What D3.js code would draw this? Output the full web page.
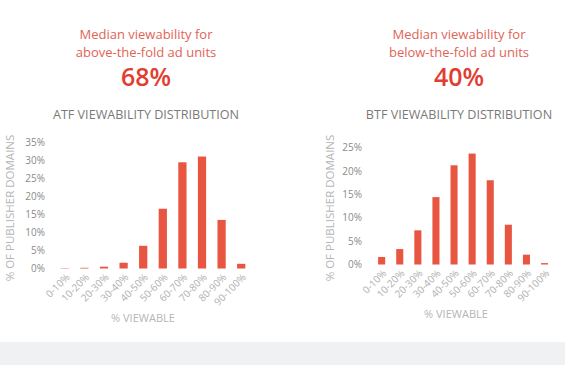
<!DOCTYPE html>
<html><head><meta charset="utf-8">
<script src="https://cdn.jsdelivr.net/npm/d3@7"></script>
<style>
html,body{margin:0;padding:0;background:#fff;}
svg{display:block;font-family:"Open Sans",sans-serif;}
</style></head>
<body>
<svg id="c" width="565" height="365"></svg>
<script>
const categories = ["0-10%","10-20%","20-30%","30-40%","40-50%","50-60%","60-70%","70-80%","80-90%","90-100%"];
const atfValues = [0.1, 0.2, 0.5, 1.6, 6.3, 16.6, 29.5, 31.1, 13.5, 1.3];
const btfValues = [1.6, 3.3, 7.3, 14.4, 21.2, 23.7, 18.0, 8.5, 2.1, 0.3];
const atfTicks = [0, 5, 10, 15, 20, 25, 30, 35];
const btfTicks = [0, 5, 10, 15, 20, 25];
const atfMedian = "68%";
const btfMedian = "40%";

const svg = d3.select("#c");
const barColor = "#e85540";

svg.append("rect").attr("x",0).attr("y",342).attr("width",565).attr("height",23).attr("fill","#f0f1f3");

function panel(cfg){
  const g = svg.append("g");
  g.append("text").attr("x",cfg.cx).attr("y",39).attr("text-anchor","middle")
    .attr("font-size",13).attr("fill","#df6457").text("Median viewability for");
  g.append("text").attr("x",cfg.cx).attr("y",57).attr("text-anchor","middle")
    .attr("font-size",13).attr("fill","#df6457").text(cfg.sub);
  g.append("text").attr("x",cfg.cx).attr("y",86).attr("text-anchor","middle")
    .attr("font-size",25).attr("font-weight",600).attr("fill","#e23d30").text(cfg.median);
  g.append("text").attr("x",cfg.cx).attr("y",119).attr("text-anchor","middle")
    .attr("font-size",12.6).attr("fill","#7a7a7a").text(cfg.title);

  const x = d3.scaleBand().domain(categories).range(cfg.xr)
    .paddingInner(cfg.pi).paddingOuter(cfg.pi/2);
  const y = d3.scaleLinear().domain([0, cfg.ymax]).range(cfg.yr);

  g.selectAll(".bar").data(cfg.values).join("rect")
    .attr("x",(d,i)=>x(categories[i])).attr("width",x.bandwidth())
    .attr("y",d=>y(d)).attr("height",d=>y(0)-y(d)).attr("fill",barColor);

  const ya = d3.axisLeft(y).tickValues(cfg.ticks).tickFormat(d=>d+"%").tickSize(0).tickPadding(0);
  const yg = g.append("g").attr("transform",`translate(${cfg.yAxisX},0)`).call(ya);
  yg.select(".domain").remove();
  yg.selectAll("text").attr("font-size",10).attr("fill","#8a8a8a").attr("font-family","Open Sans");

  const xa = d3.axisBottom(x).tickSize(0).tickPadding(0);
  const xg = g.append("g").attr("transform",`translate(0,${cfg.yr[0]+7})`).call(xa);
  xg.select(".domain").remove();
  xg.selectAll("text").attr("font-size",10).attr("fill","#b0b0b0").attr("font-family","Open Sans")
    .attr("text-anchor","end").attr("dy","0.35em").attr("dx",0)
    .attr("transform","translate(3,0) rotate(-45)");

  g.append("text").attr("transform",`translate(${cfg.ytx},${cfg.yty}) rotate(-90)`)
    .attr("text-anchor","middle").attr("font-size",11.5).attr("fill","#b5b5b5")
    .text("% OF PUBLISHER DOMAINS");
  g.append("text").attr("x",cfg.xtx).attr("y",cfg.xty).attr("text-anchor","middle")
    .attr("font-size",11).attr("fill","#b5b5b5").text("% VIEWABLE");
}

panel({cx:146, sub:"above-the-fold ad units", median:atfMedian, title:"ATF VIEWABILITY DISTRIBUTION",
  values:atfValues, ticks:atfTicks, ymax:35, xr:[55,251], pi:0.58, yr:[268.5,142.5],
  yAxisX:45, ytx:14, yty:208, xtx:143, xty:322});
panel({cx:459, sub:"below-the-fold ad units", median:btfMedian, title:"BTF VIEWABILITY DISTRIBUTION",
  values:btfValues, ticks:btfTicks, ymax:25, xr:[372.6,553.6], pi:0.61, yr:[264.5,147.5],
  yAxisX:362, ytx:334, yty:208, xtx:456, xty:318});
</script>
</body></html>
